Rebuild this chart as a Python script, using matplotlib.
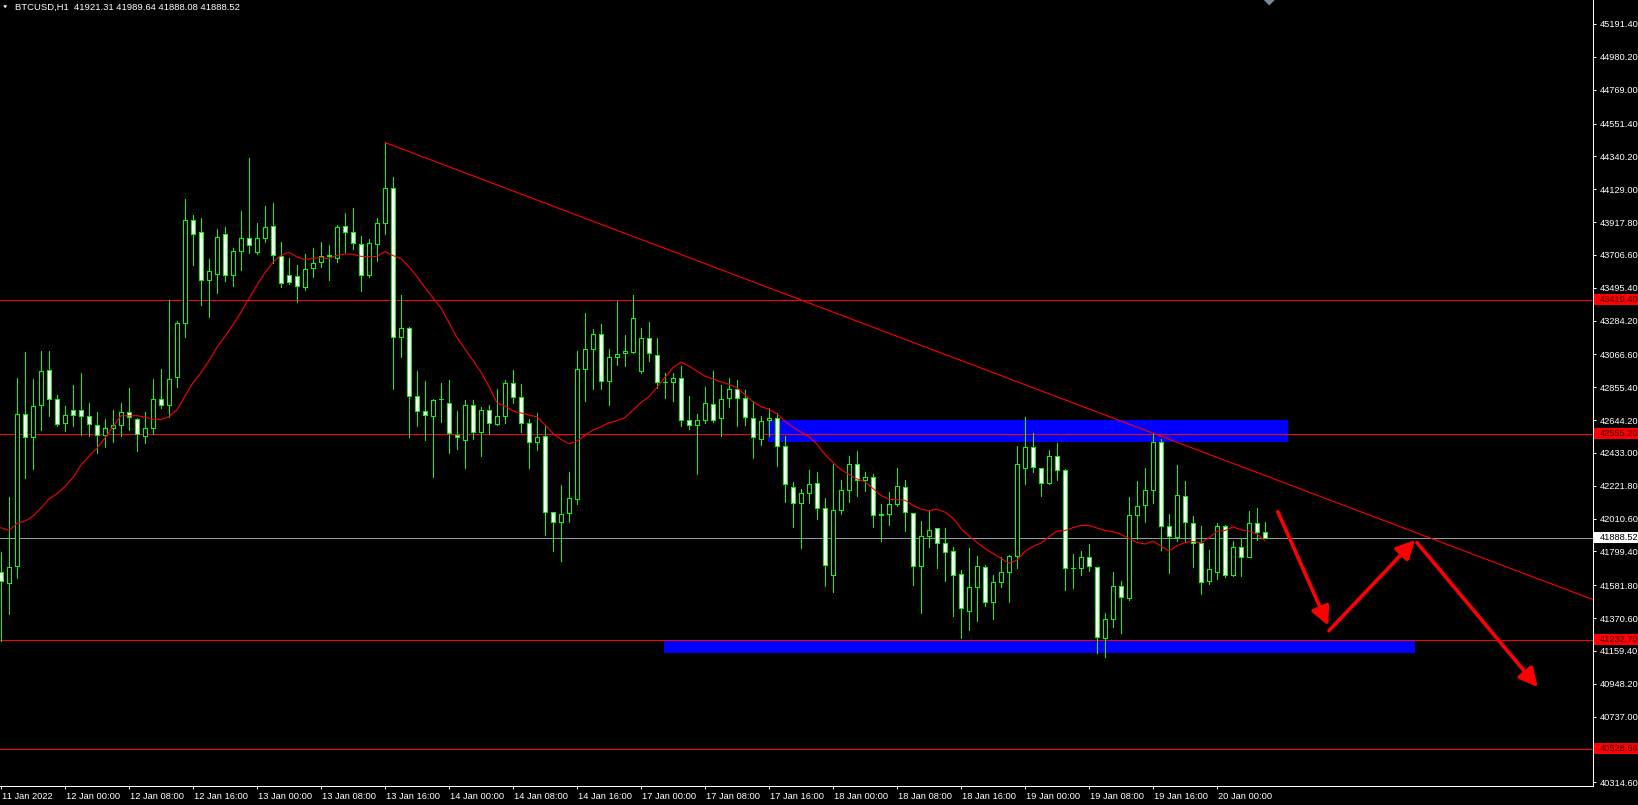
import matplotlib
matplotlib.use('Agg')
import matplotlib.pyplot as plt
import matplotlib.transforms as mtransforms
from matplotlib.patches import Rectangle, Polygon, FancyArrowPatch
import numpy as np

plt.rcParams['font.family'] = ['Liberation Sans', 'DejaVu Sans']

# ---------------- data (BTCUSD H1, bar index 0 = 11 Jan 16:00) ----------------
opens = [41665, 41596, 41704, 42686, 42532, 42743, 42969, 42782, 42626, 42711,
         42711, 42670, 42615, 42550, 42592, 42615, 42697, 42654, 42541, 42592,
         42782, 42743, 42918, 43270, 43934, 43854, 43546, 43585, 43843, 43580,
         43734, 43813, 43723, 43817, 43895, 43700, 43580, 43573, 43500, 43619,
         43663, 43700, 43688, 43893, 43854, 43778, 43580, 43774, 43914, 44139,
         43178, 43238, 42801, 42704, 42670, 42778, 42757, 42550, 42518, 42743,
         42569, 42711, 42619, 42670, 42884, 42792, 42624, 42504, 42541, 42051,
         41987, 42044, 42136, 42970, 43099, 43196, 42895, 43048, 43074, 43080,
         42958, 43170, 43061, 42890, 42890, 42913, 42643, 42611, 42643, 42746,
         42655, 42784, 42842, 42784, 42655, 42524, 42643, 42655, 42477, 42212,
         42110, 42174, 42239, 42078, 41648, 42065, 42194, 42360, 42258, 42277,
         42033, 42039, 42104, 42211, 42046, 41708, 41896, 41950, 41853, 41802,
         41654, 41413, 41569, 41697, 41477, 41601, 41665, 41772, 42335, 42474,
         42339, 42239, 42410, 42320, 41693, 41693, 41766, 41697, 41243, 41365,
         41575, 41500, 42033, 42097, 42194, 42506, 41962, 41890, 42153, 41980,
         41851, 41611, 41665, 41962, 41648, 41830, 41766, 41980, 41921.31]
highs = [41798, 42148, 42914, 43079, 42907, 43086, 43086, 42803, 42734, 42872,
         42950, 42757, 42693, 42649, 42711, 42757, 42849, 42660, 42693, 42907,
         42971, 43419, 43281, 44066, 43962, 43941, 43677, 43872, 43884, 43753,
         43987, 44332, 43914, 44020, 44040, 43787, 43686, 43642, 43711, 43753,
         43787, 43769, 43900, 43976, 44008, 43826, 43808, 43941, 44429, 44206,
         43447, 43240, 42957, 42893, 42780, 42884, 42900, 42700, 42776, 42770,
         42727, 42743, 42842, 42900, 42964, 42879, 42654, 42688, 42608, 42051,
         42228, 42311, 43088, 43331, 43228, 43263, 43099, 43410, 43191, 43448,
         43234, 43272, 43170, 42945, 42945, 42990, 42799, 42683, 42857, 42961,
         42867, 42913, 42902, 42837, 42766, 42670, 42721, 42689, 42539, 42247,
         42200, 42324, 42311, 42142, 42360, 42258, 42414, 42446, 42313, 42296,
         42104, 42183, 42335, 42260, 42046, 41997, 42061, 41950, 41947, 41830,
         41682, 41819, 41772, 41714, 41650, 41766, 41778, 42478, 42664, 42560,
         42339, 42452, 42495, 42329, 41783, 41804, 41847, 41697, 41402, 41665,
         41607, 42151, 42253, 42335, 42562, 42525, 42039, 42356, 42253, 42029,
         41964, 41810, 41980, 41968, 41868, 41885, 42061, 42076, 41989.64]
lows = [41221, 41396, 41630, 42274, 42327, 42580, 42670, 42608, 42573, 42603,
        42546, 42539, 42431, 42470, 42500, 42539, 42578, 42442, 42495, 42555,
        42723, 42661, 42856, 43176, 43642, 43385, 43307, 43463, 43539, 43507,
        43608, 43721, 43714, 43787, 43654, 43500, 43516, 43401, 43482, 43562,
        43626, 43546, 43661, 43723, 43746, 43475, 43562, 43670, 43838, 42845,
        43049, 42532, 42608, 42516, 42279, 42631, 42431, 42458, 42336, 42523,
        42412, 42555, 42612, 42628, 42757, 42566, 42336, 42454, 41906, 41803,
        41739, 41987, 42102, 42768, 42842, 42846, 42741, 42998, 42992, 43075,
        42950, 43026, 42848, 42788, 42768, 42608, 42589, 42299, 42627, 42634,
        42544, 42730, 42605, 42613, 42402, 42484, 42544, 42350, 42118, 41957,
        41819, 42110, 42005, 41575, 41537, 42039, 42114, 42157, 42189, 41954,
        41868, 41971, 42093, 41928, 41584, 41402, 41825, 41691, 41611, 41383,
        41241, 41297, 41350, 41447, 41365, 41569, 41472, 41691, 42232, 42307,
        42153, 42232, 42260, 41552, 41564, 41648, 41671, 41147, 41119, 41312,
        41273, 41487, 41877, 41986, 42110, 41808, 41659, 41868, 41868, 41697,
        41526, 41590, 41622, 41633, 41643, 41643, 41766, 41875, 41888.08]
closes = [41607, 41699, 42686, 42532, 42734, 42962, 42782, 42619, 42679, 42679,
          42670, 42619, 42550, 42592, 42615, 42697, 42661, 42557, 42592, 42782,
          42743, 42911, 43270, 43934, 43843, 43546, 43606, 43824, 43580, 43734,
          43817, 43767, 43817, 43888, 43707, 43523, 43534, 43509, 43613, 43656,
          43702, 43704, 43888, 43856, 43780, 43580, 43785, 43914, 44139, 43176,
          43238, 42801, 42704, 42679, 42776, 42782, 42562, 42534, 42743, 42569,
          42711, 42628, 42670, 42884, 42792, 42628, 42504, 42536, 42051, 41991,
          42040, 42143, 42970, 43099, 43196, 42895, 43048, 43067, 43086, 43298,
          43170, 43074, 42887, 42890, 42913, 42643, 42611, 42643, 42752, 42645,
          42777, 42845, 42784, 42665, 42532, 42638, 42655, 42477, 42231, 42113,
          42174, 42232, 42078, 41712, 42065, 42194, 42360, 42258, 42277, 42033,
          42037, 42104, 42219, 42054, 41708, 41896, 41937, 41853, 41798, 41650,
          41436, 41569, 41703, 41477, 41601, 41665, 41772, 42360, 42474, 42343,
          42239, 42416, 42324, 41693, 41695, 41766, 41708, 41248, 41365, 41575,
          41504, 42033, 42091, 42194, 42500, 41962, 41898, 42161, 41986, 41851,
          41601, 41686, 41962, 41648, 41830, 41766, 41980, 41926, 41888.52]

# moving average: values read for the first bars, SMA(14) of closes afterwards
ma_period = 14
ma_head = [41952, 41934, 41980, 41994, 42026, 42079, 42136, 42171, 42217,
           42274, 42355, 42412, 42463]

xtick_pos = [0, 8, 16, 24, 32, 40, 48, 56, 64, 72, 80, 88, 96, 104, 112, 120,
             128, 136, 144, 152]
xtick_labels = ['11 Jan 2022', '12 Jan 00:00', '12 Jan 08:00', '12 Jan 16:00',
                '13 Jan 00:00', '13 Jan 08:00', '13 Jan 16:00', '14 Jan 00:00',
                '14 Jan 08:00', '14 Jan 16:00', '17 Jan 00:00', '17 Jan 08:00',
                '17 Jan 16:00', '18 Jan 00:00', '18 Jan 08:00', '18 Jan 16:00',
                '19 Jan 00:00', '19 Jan 08:00', '19 Jan 16:00', '20 Jan 00:00']
ytick_vals = [45191.40, 44980.20, 44769.00, 44551.40, 44340.20, 44129.00,
              43917.80, 43706.60, 43495.40, 43284.20, 43066.60, 42855.40,
              42644.20, 42433.00, 42221.80, 42010.60, 41799.40, 41581.80,
              41370.60, 41159.40, 40948.20, 40737.00, 40314.60]

level_lines = [43419.40, 42555.20, 41232.70, 40528.66]
bid_price = 41888.52
header = "BTCUSD,H1  41921.31 41989.64 41888.08 41888.52"

trend_anchor = [(48, 44429), (144, 42560)]
zones = [(95.9, 160.9, 42503, 42645), (82.9, 176.8, 41146, 41230)]
arrows = [((159.6, 42055), (165.9, 41322)),
          ((166.0, 41290), (176.75, 41873)),
          ((177.0, 41856), (192.1, 40926))]

# ---------------- figure ----------------
W, H = 1638, 805
AX_W, AX_H = 1593, 786
fig = plt.figure(figsize=(W / 100, H / 100), dpi=100, facecolor='black')
ax = fig.add_axes([0, (H - AX_H) / H, AX_W / W, AX_H / H], facecolor='black')

PX = 0.72  # one pixel in points
GREEN = '#00FF00'
RED = '#FF0000'

n = len(closes)
xs = np.arange(n)
ax.set_xlim(-1 / 8, (AX_W - 1) / 8)
ax.set_ylim(40290.6, 45345.75)

# zones
for x0, x1, p0, p1 in zones:
    ax.add_patch(Rectangle((x0, p0), x1 - x0, p1 - p0, facecolor='#0000FF',
                           edgecolor='none', zorder=1))

# horizontal levels
for lv in level_lines:
    ax.axhline(lv, color=RED, lw=PX, zorder=2, antialiased=False)
ax.axhline(bid_price, color='#8F9AA6', lw=PX, zorder=2, antialiased=False)

# candles
o = np.array(opens, float)
c = np.array(closes, float)
hi = np.array(highs, float)
lo = np.array(lows, float)
ax.vlines(xs, lo, hi, color=GREEN, lw=PX, zorder=3, antialiased=False)
bottoms = np.minimum(o, c)
heights = np.maximum(np.abs(c - o), 2.0)
fills = ['black' if cc > oo else 'white' for oo, cc in zip(o, c)]
ax.bar(xs, heights, width=0.45, bottom=bottoms, color=fills, edgecolor=GREEN,
       linewidth=PX, zorder=4, antialiased=False)

# moving average
ma = list(ma_head)
for i in range(len(ma_head), n):
    ma.append(np.mean(c[max(0, i - ma_period + 1):i + 1]))
ax.plot(xs, ma, color=RED, lw=0.8, zorder=5, antialiased=True)

# trend line (ray to the right edge)
(tx0, tp0), (tx1, tp1) = trend_anchor
slope = (tp1 - tp0) / (tx1 - tx0)
tx_end = (AX_W - 1) / 8
ax.plot([tx0, tx_end], [tp0, tp0 + slope * (tx_end - tx0)], color=RED, lw=0.8,
        zorder=5, antialiased=True)

# arrows
for (a0, a1) in arrows:
    ax.add_patch(FancyArrowPatch(a0, a1, arrowstyle='-|>,head_length=0.8,head_width=0.4',
                                 mutation_scale=14, color=RED, lw=2.6,
                                 shrinkA=0, shrinkB=0, zorder=6))

# axes styling
for s in ['top', 'left']:
    ax.spines[s].set_visible(False)
for s in ['right', 'bottom']:
    ax.spines[s].set_color('white')
    ax.spines[s].set_linewidth(PX)

ax.yaxis.tick_right()
ax.set_yticks(ytick_vals)
ax.set_yticklabels([f'{v:.2f}' for v in ytick_vals])
ax.tick_params(axis='y', colors='white', labelcolor='white', length=2.3,
               width=PX, pad=2.2, labelsize=6.7, direction='out')

ax.set_xticks(xtick_pos)
ax.set_xticklabels(xtick_labels, ha='left')
ax.tick_params(axis='x', colors='white', labelcolor='white', length=2.3,
               width=PX, pad=1.8, labelsize=6.7, direction='out')
off = mtransforms.ScaledTranslation(1.5 / 100, 0, fig.dpi_scale_trans)
for lbl in ax.get_xticklabels():
    lbl.set_transform(lbl.get_transform() + off)

# price labels on the axis
bt = mtransforms.blended_transform_factory(ax.transAxes, ax.transData)
ppx = (45345.75 - 40290.6) / AX_H
box_h = 11 * ppx
for lv, fc, tc in [(l, RED, '#3a0000') for l in level_lines] + [(bid_price, 'white', 'black')]:
    ax.add_patch(Rectangle((1594 / AX_W, lv - box_h / 2), (W - 1594) / AX_W, box_h,
                           transform=bt, facecolor=fc, edgecolor='none',
                           clip_on=False, zorder=10))
    ax.text(1599.5 / AX_W, lv, f'{lv:.2f}', transform=bt, color=tc, fontsize=6.7,
            va='center', ha='left', clip_on=False, zorder=11)

# header
ident = mtransforms.IdentityTransform()
fig.patches.append(Polygon([[3.2, H - 5.3], [7.2, H - 5.3], [5.2, H - 8.3]],
                           closed=True, facecolor='white', edgecolor='none',
                           transform=ident, figure=fig))
fig.text(15.3 / W, 1 - 7.5 / H, header, color='white', fontsize=6.8,
         va='center', ha='left')
# chart shift marker
fig.patches.append(Polygon([[1263.8, H], [1274.8, H], [1269.3, H - 5.5]],
                           closed=True, facecolor='#778899', edgecolor='none',
                           transform=ident, figure=fig))

fig.savefig('out.png', dpi=100, facecolor='black')
